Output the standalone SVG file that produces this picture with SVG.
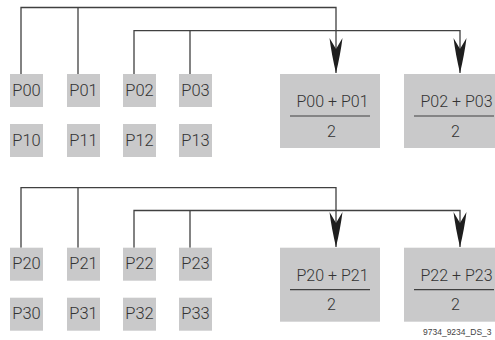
<svg xmlns="http://www.w3.org/2000/svg" width="495" height="340" viewBox="0 0 495 340">
<style>
.sb{fill:#c9c9ca}
.bb{fill:#c9c9ca}
.t{font-family:Roboto,"Liberation Sans",Arial,sans-serif;font-weight:300;font-size:16.5px;fill:#333;text-anchor:middle}
.f{font-family:Roboto,"Liberation Sans",Arial,sans-serif;font-weight:300;font-size:16px;fill:#333;text-anchor:middle}
.c{fill:none;stroke:#404040;stroke-width:1.3}
.fl{stroke:#404040;stroke-width:1.2}
.cap{font-family:"Liberation Sans",Arial,sans-serif;font-size:8.5px;fill:#444}
</style>
<defs>
<marker id="ah" markerUnits="userSpaceOnUse" markerWidth="36" markerHeight="14" refX="35" refY="7" orient="auto" viewBox="0 0 36 14">
<path d="M35,7 Q16,2.5 0,0.5 L11,7 L0,13.5 Q16,11.5 35,7 Z" fill="#1e1e1e"/>
</marker>
</defs>
<rect width="495" height="340" fill="#fff"/>
<g id="connectors">
<path class="c" d="M21,74 V7.5 H336 V73" marker-end="url(#ah)"/>
<path class="c" d="M78,7.5 V74"/>
<path class="c" d="M134,74 V30.7 H460 V73" marker-end="url(#ah)"/>
<path class="c" d="M190,30.7 V74"/>
<path class="c" d="M21,247.7 V187.6 H336 V247" marker-end="url(#ah)"/>
<path class="c" d="M78,187.6 V247.7"/>
<path class="c" d="M134,247.7 V210.5 H460 V247" marker-end="url(#ah)"/>
<path class="c" d="M190,210.5 V247.7"/>
</g>
<g id="P00"><rect class="sb" x="10" y="74" width="33" height="33"/><text class="t" x="26.5" y="95.7">P00</text></g>
<g id="P01"><rect class="sb" x="67" y="74" width="33" height="33"/><text class="t" x="83.5" y="95.7">P01</text></g>
<g id="P02"><rect class="sb" x="123" y="74" width="33" height="33"/><text class="t" x="139.5" y="95.7">P02</text></g>
<g id="P03"><rect class="sb" x="179" y="74" width="33" height="33"/><text class="t" x="195.5" y="95.7">P03</text></g>
<g id="P10"><rect class="sb" x="10" y="124" width="33" height="33"/><text class="t" x="26.5" y="145.7">P10</text></g>
<g id="P11"><rect class="sb" x="67" y="124" width="33" height="33"/><text class="t" x="83.5" y="145.7">P11</text></g>
<g id="P12"><rect class="sb" x="123" y="124" width="33" height="33"/><text class="t" x="139.5" y="145.7">P12</text></g>
<g id="P13"><rect class="sb" x="179" y="124" width="33" height="33"/><text class="t" x="195.5" y="145.7">P13</text></g>
<g id="P20"><rect class="sb" x="10" y="247.7" width="33" height="33"/><text class="t" x="26.5" y="269.4">P20</text></g>
<g id="P21"><rect class="sb" x="67" y="247.7" width="33" height="33"/><text class="t" x="83.5" y="269.4">P21</text></g>
<g id="P22"><rect class="sb" x="123" y="247.7" width="33" height="33"/><text class="t" x="139.5" y="269.4">P22</text></g>
<g id="P23"><rect class="sb" x="179" y="247.7" width="33" height="33"/><text class="t" x="195.5" y="269.4">P23</text></g>
<g id="P30"><rect class="sb" x="10" y="297.7" width="33" height="33"/><text class="t" x="26.5" y="319.4">P30</text></g>
<g id="P31"><rect class="sb" x="67" y="297.7" width="33" height="33"/><text class="t" x="83.5" y="319.4">P31</text></g>
<g id="P32"><rect class="sb" x="123" y="297.7" width="33" height="33"/><text class="t" x="139.5" y="319.4">P32</text></g>
<g id="P33"><rect class="sb" x="179" y="297.7" width="33" height="33"/><text class="t" x="195.5" y="319.4">P33</text></g>
<g id="avg0001"><rect class="bb" x="280" y="74" width="100" height="74"/><text class="f" x="332.5" y="107.3">P00 + P01</text><line class="fl" x1="290" y1="116" x2="370" y2="116"/><text class="f" x="331.5" y="136.7">2</text></g>
<g id="avg0203"><rect class="bb" x="404" y="74" width="100" height="74"/><text class="f" x="456.5" y="107.3">P02 + P03</text><line class="fl" x1="414" y1="116" x2="494" y2="116"/><text class="f" x="455.5" y="136.7">2</text></g>
<g id="avg2021"><rect class="bb" x="280" y="247.7" width="100" height="74"/><text class="f" x="332.5" y="281">P20 + P21</text><line class="fl" x1="290" y1="289.7" x2="370" y2="289.7"/><text class="f" x="331.5" y="310.4">2</text></g>
<g id="avg2223"><rect class="bb" x="404" y="247.7" width="100" height="74"/><text class="f" x="456.5" y="281">P22 + P23</text><line class="fl" x1="414" y1="289.7" x2="494" y2="289.7"/><text class="f" x="455.5" y="310.4">2</text></g>
<text class="cap" x="423" y="335">9734_9234_DS_3</text>
</svg>
